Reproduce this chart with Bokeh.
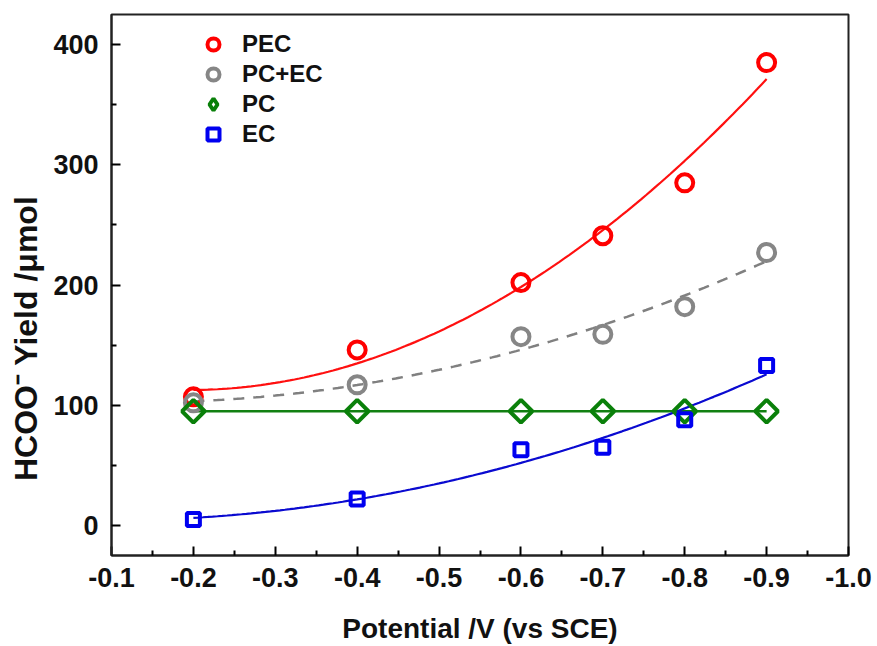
import numpy as np
from bokeh.plotting import figure
from bokeh.models import Range1d, FixedTicker, PrintfTickFormatter, Legend, LegendItem
from bokeh.embed import file_html
from bokeh.resources import INLINE

potential = [-0.2, -0.4, -0.6, -0.7, -0.8, -0.9]
pec = [107, 146, 202, 241, 285, 385]
pc_ec = [102, 117, 157, 159, 182, 227]
pc = [95, 95, 95, 95, 95, 95]
ec = [5, 22, 63, 65, 88, 133]

x_ticks = [-0.1, -0.2, -0.3, -0.4, -0.5, -0.6, -0.7, -0.8, -0.9, -1.0]
y_ticks = [0, 100, 200, 300, 400]

FONT = "Liberation Sans"

p = figure(width=877, height=646, output_backend="svg", toolbar_location=None,
           x_range=Range1d(-0.1, -1.0), y_range=Range1d(-25, 425),
           min_border_left=111, min_border_right=29, min_border_top=14, min_border_bottom=89)
p.xgrid.visible = False
p.ygrid.visible = False
p.outline_line_color = "#222222"
p.outline_line_width = 2

for ax in (p.xaxis[0], p.yaxis[0]):
    ax.major_tick_in = 9
    ax.major_tick_out = 0
    ax.minor_tick_in = 5
    ax.minor_tick_out = 0
    ax.axis_line_width = 2
    ax.axis_line_color = "#222222"
    ax.major_tick_line_width = 2
    ax.minor_tick_line_width = 2
    ax.major_label_text_font = FONT
    ax.major_label_text_font_style = "bold"
    ax.major_label_text_color = "#111111"
    ax.axis_label_text_font = FONT
    ax.axis_label_text_font_style = "bold"
    ax.axis_label_text_color = "#111111"

p.xaxis.major_label_text_font_size = "27px"
p.yaxis.major_label_text_font_size = "27px"

xminor = [round(a - 0.05, 2) for a in x_ticks[:-1]]
p.xaxis.ticker = FixedTicker(ticks=x_ticks, minor_ticks=xminor)
p.xaxis.formatter = PrintfTickFormatter(format="%.1f")
p.xaxis.axis_label = "Potential /V (vs SCE)"
p.xaxis.axis_label_text_font_size = "28px"
p.xaxis.major_label_standoff = 12
p.xaxis.axis_label_standoff = 23

yminor = [v + 50 for v in y_ticks]
p.yaxis.ticker = FixedTicker(ticks=y_ticks, minor_ticks=yminor)
# trailing no-break spaces nudge the title below the frame's middle, as in the reference
p.yaxis.axis_label = "HCOO\u207b Yield /\u03bcmol" + "\u00a0" * 12
p.yaxis.axis_label_text_font_size = "32px"
p.yaxis.major_label_standoff = 13
p.yaxis.axis_label_standoff = 6

# fitted curves from the data
xa = np.array(potential)
xf = np.linspace(-0.2, -0.9, 120)
def fit(vals):
    c = np.polyfit(xa, np.array(vals, dtype=float), 2)
    return np.polyval(c, xf)

p.line(xf, fit(pec), line_color="#ff1010", line_width=2.2)
p.line(xf, fit(pc_ec), line_color="#808080", line_width=2.5, line_dash="11 9")
p.line([potential[0], potential[-1]], [np.mean(pc), np.mean(pc)], line_color="#118011", line_width=2.5)
p.line(xf, fit(ec), line_color="#0a0ad0", line_width=2.2)

r_pec = p.scatter(potential, pec, marker="circle", size=17, fill_color=None,
                  line_color="#ff0000", line_width=4)
r_pcec = p.scatter(potential, pc_ec, marker="circle", size=17, fill_color=None,
                   line_color="#868686", line_width=4)
r_pc = p.scatter(potential, pc, marker="square", size=16, angle=np.pi / 4, fill_color=None,
                 line_color="#0a800a", line_width=4)
r_ec = p.scatter(potential, ec, marker="square", size=13, fill_color=None,
                 line_color="#0000f0", line_width=4)
# legend-only stand-in for the diamond (legend glyphs ignore angle)
r_pc_leg = p.scatter(potential, pc, marker="diamond", size=16, fill_color=None,
                     line_color="#0a800a", line_width=4, visible=False)

legend = Legend(items=[LegendItem(label="PEC", renderers=[r_pec]),
                       LegendItem(label="PC+EC", renderers=[r_pcec]),
                       LegendItem(label="PC", renderers=[r_pc_leg]),
                       LegendItem(label="EC", renderers=[r_ec])],
                location=(87, 406), glyph_width=30, glyph_height=30, label_height=30,
                spacing=0, label_standoff=14, padding=0, margin=0,
                border_line_color=None, background_fill_alpha=0,
                label_text_font=FONT, label_text_font_style="bold",
                label_text_font_size="24px", label_text_color="#111111")
p.add_layout(legend)

open("out.html", "w").write(file_html(p, INLINE))
